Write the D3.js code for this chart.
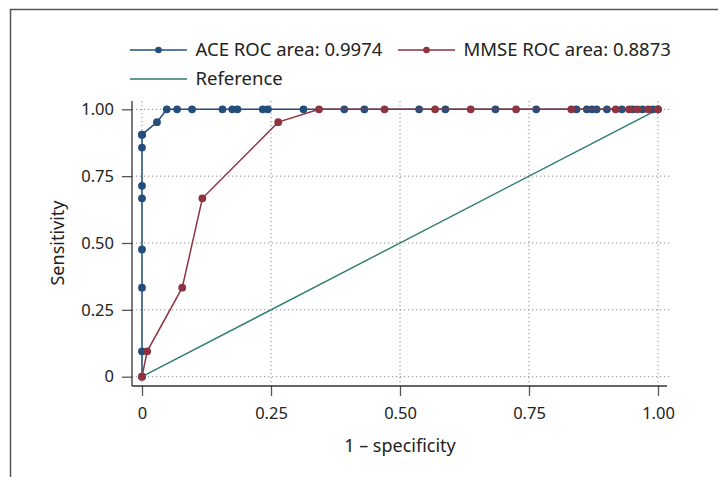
<!DOCTYPE html>
<html>
<head>
<meta charset="utf-8">
<script src="https://cdn.jsdelivr.net/npm/d3@7"></script>
<style>
  body { margin: 0; background: #fff; }
  text { font-family: "Noto Sans", "Open Sans", sans-serif; fill: #222; }
</style>
</head>
<body>
<div id="chart"></div>
<script>
// ROC data (1 - specificity, sensitivity)
const aceFpr = [0, 0, 0, 0, 0, 0, 0, 0, 0, 0.029, 0.048, 0.068, 0.097, 0.156, 0.175, 0.185, 0.234, 0.244, 0.313,
  0.392, 0.431, 0.537, 0.588, 0.685, 0.764, 0.842, 0.862, 0.872, 0.881, 0.901, 0.930, 0.951, 0.970, 0.990, 1.0];
const aceTpr = [0, 0.095, 0.333, 0.476, 0.667, 0.714, 0.857, 0.905, 0.905, 0.952, 1, 1, 1, 1, 1, 1, 1, 1, 1,
  1, 1, 1, 1, 1, 1, 1, 1, 1, 1, 1, 1, 1, 1, 1, 1];
const mmseFpr = [0, 0.010, 0.078, 0.117, 0.264, 0.343, 0.470, 0.568, 0.637, 0.725, 0.832, 0.918, 0.944, 0.960, 0.981, 1.0];
const mmseTpr = [0, 0.095, 0.333, 0.667, 0.952, 1, 1, 1, 1, 1, 1, 1, 1, 1, 1, 1];
const refLine = [[0, 0], [1, 1]];
const ticks = [0, 0.25, 0.5, 0.75, 1];
const tickLabels = ["0", "0.25", "0.50", "0.75", "1.00"];
const legendLabels = ["ACE ROC area: 0.9974", "MMSE ROC area: 0.8873", "Reference"];

const W = 718, H = 477;
const blue = "#234d7a", red = "#8e3340", teal = "#2d7b70";

const svg = d3.select("#chart").append("svg")
  .attr("width", W).attr("height", H)
  .style("display", "block");

// outer frame (cut at right/bottom)
svg.append("path")
  .attr("d", "M10.5," + H + " V9.5 H" + W)
  .attr("fill", "none").attr("stroke", "#555").attr("stroke-width", 1.5);

const x = d3.scaleLinear().domain([0, 1]).range([142, 658]);
const y = d3.scaleLinear().domain([0, 1]).range([376.7, 109.3]);

// grid
svg.append("g").selectAll("line").data(ticks).enter().append("line")
  .attr("x1", 132).attr("x2", 671)
  .attr("y1", d => y(d)).attr("y2", d => y(d))
  .attr("stroke", "#888").attr("stroke-width", 1).attr("stroke-dasharray", "1.2,2.8");
svg.append("g").selectAll("line").data(ticks).enter().append("line")
  .attr("y1", 101).attr("y2", 386)
  .attr("x1", d => x(d)).attr("x2", d => x(d))
  .attr("stroke", "#888").attr("stroke-width", 1).attr("stroke-dasharray", "1.2,2.8");

// axes
const yAxis = d3.axisLeft(y).tickValues(ticks).tickFormat((d, i) => tickLabels[i]).tickSize(10).tickPadding(8);
const xAxis = d3.axisBottom(x).tickValues(ticks).tickFormat((d, i) => tickLabels[i]).tickSize(10).tickPadding(11);

const gy = svg.append("g").attr("transform", "translate(132,0)").call(yAxis);
const gx = svg.append("g").attr("transform", "translate(0,386)").call(xAxis);
[gx, gy].forEach(g => {
  g.select(".domain").remove();
  g.selectAll(".tick line").attr("stroke", "#555").attr("stroke-width", 1.3);
  g.selectAll(".tick text").style("font-size", "16.5px").attr("fill", "#222")
    .style("font-family", '"Noto Sans", "Open Sans", sans-serif');
});
gx.selectAll(".tick text").attr("dy", "0.71em");
svg.append("line").attr("x1", 132).attr("x2", 132).attr("y1", 101).attr("y2", 386)
  .attr("stroke", "#333").attr("stroke-width", 1.3);
svg.append("line").attr("x1", 132).attr("x2", 667).attr("y1", 386).attr("y2", 386)
  .attr("stroke", "#333").attr("stroke-width", 1.3);

// axis titles
svg.append("text").attr("x", 400).attr("y", 452).attr("text-anchor", "middle")
  .style("font-size", "18px").text("1 \u2013 specificity");
svg.append("text").attr("transform", "translate(64,243) rotate(-90)").attr("text-anchor", "middle")
  .style("font-size", "18px").text("Sensitivity");

const line = d3.line().x(d => x(d[0])).y(d => y(d[1]));

// reference
svg.append("path").datum(refLine).attr("d", line)
  .attr("fill", "none").attr("stroke", teal).attr("stroke-width", 1.4);

function series(fpr, tpr, color) {
  const pts = fpr.map((f, i) => [f, tpr[i]]);
  svg.append("path").datum(pts).attr("d", line)
    .attr("fill", "none").attr("stroke", color).attr("stroke-width", 1.5);
  svg.append("g").selectAll("circle").data(pts).enter().append("circle")
    .attr("cx", d => x(d[0])).attr("cy", d => y(d[1])).attr("r", 3.9)
    .attr("fill", color);
}
series(aceFpr, aceTpr, blue);
series(mmseFpr, mmseTpr, red);

// legend
const legend = [
  { x: 130, y: 50, color: blue, marker: true, label: legendLabels[0] },
  { x: 398, y: 50, color: red, marker: true, label: legendLabels[1] },
  { x: 130, y: 79, color: teal, marker: false, label: legendLabels[2] }
];
legend.forEach(l => {
  svg.append("line").attr("x1", l.x).attr("x2", l.x + 57).attr("y1", l.y).attr("y2", l.y)
    .attr("stroke", l.color).attr("stroke-width", 1.5);
  if (l.marker) svg.append("circle").attr("cx", l.x + 28.5).attr("cy", l.y).attr("r", 3.3).attr("fill", l.color);
  svg.append("text").attr("x", l.x + 65.5).attr("y", l.y).attr("dy", "0.35em")
    .style("font-size", "18.5px").text(l.label);
});
</script>
</body>
</html>
